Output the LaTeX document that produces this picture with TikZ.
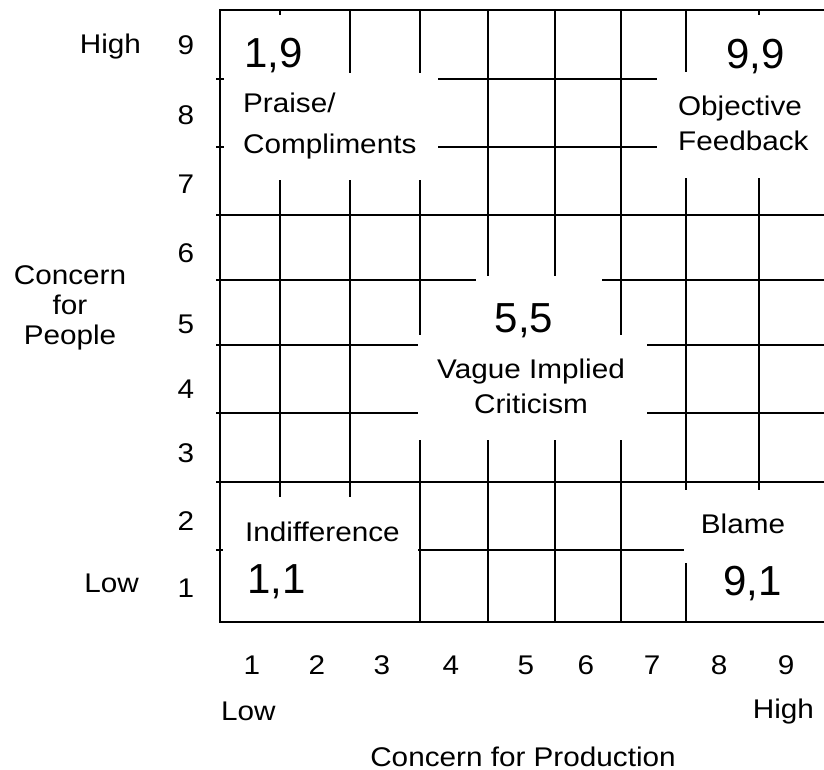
\documentclass[tikz,border=0pt]{standalone}
\usepackage{fontspec}
\setmainfont[FakeStretch=1.1]{Liberation Sans}
\newfontfamily\bignum{Liberation Sans}

\begin{document}
\begin{tikzpicture}[x=1pt,y=-1pt,line width=2.2pt,
every node/.style={inner sep=0pt,font=\fontsize{27}{35}\selectfont},
pair/.style={font=\bignum\fontsize{42}{48}\selectfont}]
\useasboundingbox (0,0) rectangle (824,769);
\draw (824,10) -- (220,10) -- (220,622) -- (824,622);
\foreach \y/\a/\b in {79/216/224,79/438/657,147/216/224,147/438/657,215/216/824,
  280/216/476,280/602/824,345/216/418,345/647/824,413/216/418,413/647/824,
  482/216/824,550/216/223,550/418/684}
  \draw (\a,\y) -- (\b,\y);
\foreach \x/\a/\b in {280/10/15,280/180/497,350/180/497,420/10/73,420/180/335,420/440/622,
  488/10/276,488/440/622,555/10/276,555/440/622,621/10/335,621/440/622,
  686/10/72,686/178/490,686/563/622,759/10/15,759/178/490}
  \draw (\x,\a) -- (\x,\b);
\draw[line width=1.2pt] (350,10) -- (350,73);

\node[pair,anchor=base west] (p19) at (243,67) {1,9};
\node[pair,anchor=base west] (p99) at (725,68) {9,9};
\node[pair,anchor=base] (p55) at (524,332) {5,5};
\node[pair,anchor=base west] (p11) at (246,593) {1,1};
\node[pair,anchor=base west] (p91) at (722,595) {9,1};

\node[anchor=base west,align=left] (praise) at (242,153) {Praise/\\[6pt]Compliments};
\node[anchor=base west,align=left] (objective) at (677,150) {Objective\\Feedback};
\node[anchor=base,align=center] (vague) at (531,413) {Vague Implied\\Criticism};
\node[anchor=base west] (indiff) at (244,541) {Indifference};
\node[anchor=base] (blame) at (743,533) {Blame};

\foreach \n/\y in {9/54,8/124,7/193,6/262,5/333,4/398,3/462,2/530,1/597}
  \node[anchor=base] (py\n) at (186,\y) {\n};
\foreach \n/\x in {1/252,2/317,3/382,4/451,5/526,6/586,7/652,8/719,9/786}
  \node[anchor=base] (px\n) at (\x,674) {\n};

\node[anchor=base east] (yhigh) at (142,53) {High};
\node[anchor=base east] (ylow) at (140,592) {Low};
\node[anchor=base,align=center,font=\fontsize{27}{30}\selectfont] (ytitle) at (70,344) {Concern\\for\\People};
\node[anchor=base west] (xlow) at (220,720) {Low};
\node[anchor=base east] (xhigh) at (815,718) {High};
\node[anchor=base] (xtitle) at (523,766) {Concern for Production};
\end{tikzpicture}
\end{document}
